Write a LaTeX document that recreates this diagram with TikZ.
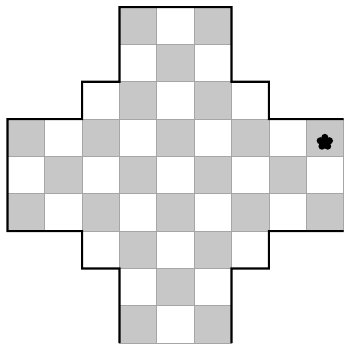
\documentclass[tikz,border=0pt]{standalone}
\usepackage{xcolor}
\usepackage{tikz}

\begin{document}
\begin{tikzpicture}[
    x=1cm, y=1cm,
    cell/.style={draw=black!35, line width=0.5pt, minimum size=1cm,
                 inner sep=0pt, outer sep=0pt},
    dark/.style={cell, fill=black!22},
    light/.style={cell, fill=white},
    rim/.style={line width=1.6pt, line join=miter},
    petal/.style={fill=black, draw=none},
]
\useasboundingbox (-0.2,-0.05) rectangle (9.02,9.19);

%% ── Board cells: row / first column / last column ───────────────────────────
\foreach \r/\a/\b in {0/3/5, 1/3/5, 2/2/6, 3/0/8, 4/0/8, 5/0/8, 6/2/6, 7/3/5, 8/3/5} {
  \foreach \c in {\a,...,\b} {
    \pgfmathtruncatemacro{\odd}{mod(\r+\c,2)}
    \ifnum\odd=1
      \node[dark]  (c-\r-\c) at (\c+0.5, 8.5-\r) {};
    \else
      \node[light] (c-\r-\c) at (\c+0.5, 8.5-\r) {};
    \fi
  }
}

%% ── Thick outline (open at the right and bottom edges) ──────────────────────
\draw[rim] (c-3-8.north east) -- (c-2-6.south east) -- (c-2-6.north east)
    -- (c-2-5.north east) -- (c-0-5.north east) -- (c-0-3.north west)
    -- (c-2-3.north west) -- (c-2-2.north west) -- (c-2-2.south west)
    -- (c-3-0.north west) -- (c-5-0.south west) -- (c-6-2.north west)
    -- (c-6-2.south west) -- (c-7-3.north west) -- (c-8-3.south west);
\draw[rim] (c-5-8.south east) -- (c-6-6.north east) -- (c-6-6.south east)
    -- (c-7-5.north east) -- (c-8-5.south east);

%% ── Flower mark on the right arm ────────────────────────────────────────────
\coordinate (fl) at ([yshift=-1.2mm]c-3-8.center);
\foreach \k in {0,...,4}
  \fill[petal] (fl) ++(90+72*\k:0.13) circle (0.095);
\fill[petal] (fl) circle (0.12);

\end{tikzpicture}
\end{document}
